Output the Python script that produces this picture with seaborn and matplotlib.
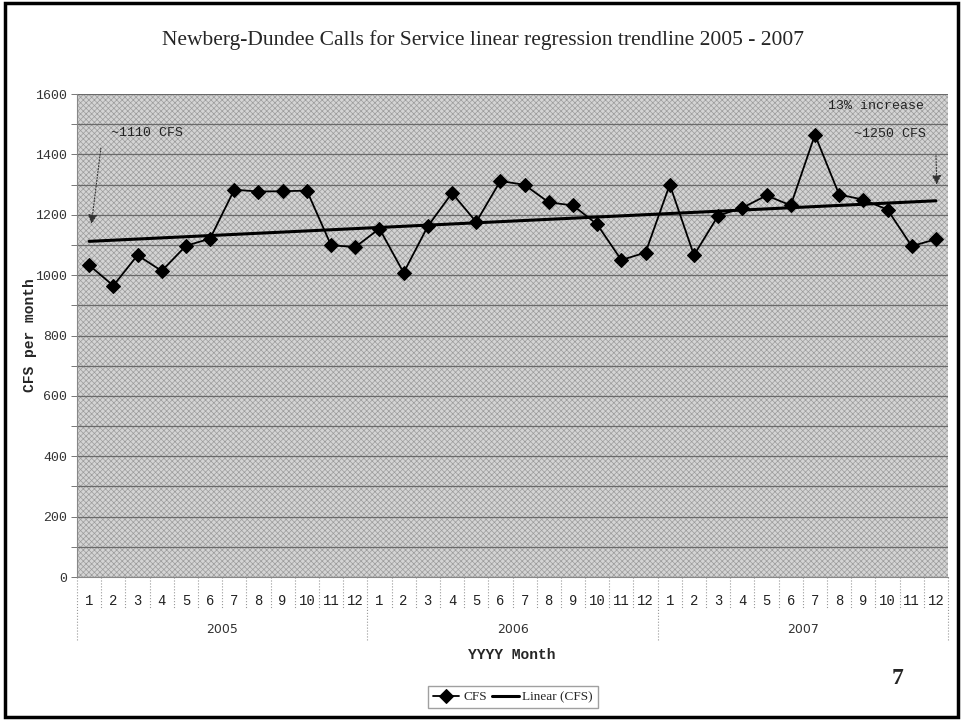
import pandas as pd
import seaborn as sns
import matplotlib.pyplot as plt
from matplotlib.patches import Rectangle
from matplotlib.ticker import MultipleLocator


YEARS = [2005, 2006, 2007]
MONTHS = list(range(1, 13))
CFS_2005 = [1033, 965, 1066, 1014, 1097, 1121, 1283, 1277, 1278, 1280, 1099, 1093]
CFS_2006 = [1154, 1008, 1162, 1272, 1176, 1312, 1299, 1241, 1231, 1168, 1050, 1075]
CFS_2007 = [1300, 1066, 1197, 1223, 1264, 1231, 1465, 1267, 1250, 1217, 1096, 1119]

TITLE = "Newberg-Dundee Calls for Service linear regression trendline 2005 - 2007"
MONO = "Liberation Mono"
SERIF = "Liberation Serif"


def build_frame():
    values = CFS_2005 + CFS_2006 + CFS_2007
    df = pd.DataFrame({
        "year": [y for y in YEARS for _ in MONTHS],
        "month": MONTHS * len(YEARS),
        "CFS": values,
    })
    df["idx"] = range(1, len(df) + 1)
    return df


def draw(df):
    sns.set_theme(style="white")
    plt.rcParams["hatch.linewidth"] = 0.5

    fig = plt.figure(figsize=(9.64, 7.21), dpi=100)
    ax = fig.add_axes([0.0799, 0.1997, 0.9035, 0.6699])

    # patterned plot area like the old excel fill
    ax.set_facecolor("#d4d4d4")
    ax.add_patch(Rectangle((0, 0), 1, 1, transform=ax.transAxes, facecolor="none",
                           edgecolor="#9c9c9c", hatch="xxxxxx", lw=0, zorder=0))

    sns.lineplot(data=df, x="idx", y="CFS", ax=ax, color="black", lw=1.3,
                 marker="D", markersize=7, markeredgecolor="black",
                 label="CFS", zorder=4)
    sns.regplot(data=df, x="idx", y="CFS", ax=ax, scatter=False, ci=None,
                color="black", label="Linear (CFS)", line_kws=dict(lw=2.2, zorder=3))

    ax.set_xlim(0.5, len(df) + 0.5)
    ax.set_ylim(0, 1600)
    ax.yaxis.set_major_locator(MultipleLocator(200))
    ax.yaxis.set_minor_locator(MultipleLocator(100))
    ax.grid(which="both", axis="y", color="#6a6a6a", lw=0.9, zorder=1)
    ax.set_axisbelow(True)
    ax.tick_params(axis="y", which="both", left=True, length=4, width=0.7,
                   color="#777", labelsize=9.5, labelcolor="#333", pad=3)
    for lab in ax.get_yticklabels():
        lab.set_fontfamily(MONO)

    for side in ["top", "right"]:
        ax.spines[side].set_visible(False)
    for side in ["left", "bottom"]:
        ax.spines[side].set_color("#888")
        ax.spines[side].set_linewidth(0.8)

    # month row and year row under the axis
    ax.set_xticks(df["idx"])
    ax.set_xticklabels(df["month"].astype(str), fontfamily=MONO, fontsize=10, color="#222")
    ax.tick_params(axis="x", length=0, pad=12)
    xt = ax.get_xaxis_transform()
    n = len(MONTHS)
    for i in range(len(df) + 1):
        edge = i % n == 0
        ax.plot([i + 0.5, i + 0.5], [0, -0.13 if edge else -0.064], transform=xt,
                clip_on=False, ls=":", color="#999", lw=0.8)
    for k, year in enumerate(YEARS):
        ax.text(k * n + (n + 1) / 2, -0.108, str(year), transform=xt, ha="center",
                va="center", fontsize=9, color="#333", family="DejaVu Sans")

    ax.set_xlabel("")
    ax.set_ylabel("")

    # annotations
    ax.annotate("", xy=(1.08, 1160), xytext=(1.5, 1430),
                arrowprops=dict(arrowstyle="-|>", ls=":", color="#333", lw=0.8, mutation_scale=14))
    ax.text(1.9, 1472, "~1110 CFS", ha="left", va="center", family=MONO, fontsize=9.5, color="#222")
    ax.text(35.5, 1561, "13% increase", ha="right", va="center", family=MONO, fontsize=9.5, color="#222")
    ax.text(35.6, 1469, "~1250 CFS", ha="right", va="center", family=MONO, fontsize=9.5, color="#222")
    ax.annotate("", xy=(36.04, 1290), xytext=(36.0, 1405),
                arrowprops=dict(arrowstyle="-|>", ls=":", color="#333", lw=0.8, mutation_scale=14))

    handles, labels = ax.get_legend_handles_labels()
    if ax.get_legend() is not None:
        ax.get_legend().remove()
    fig.legend(handles, labels, loc="center", bbox_to_anchor=(513 / 964, 1 - 697 / 721),
               ncol=2, frameon=True, fancybox=False, edgecolor="#888",
               prop=dict(family=SERIF, size=9.5), handlelength=2, handletextpad=0.3,
               columnspacing=0.4, borderpad=0.35)

    fig.text(483 / 964, 1 - 40 / 721, TITLE, ha="center", va="center", family=SERIF, fontsize=15.5)
    fig.text(30 / 964, 1 - 335 / 721, "CFS per month", rotation=90, ha="center", va="center",
             family=MONO, weight="bold", fontsize=10.5)
    fig.text(512 / 964, 1 - 655 / 721, "YYYY Month", ha="center", va="center",
             family=MONO, weight="bold", fontsize=10.5)
    fig.text(898 / 964, 1 - 678 / 721, "7", ha="center", va="center",
             family=SERIF, weight="bold", fontsize=17)

    fig.patches.append(Rectangle((0.005, 0.0055), 0.989, 0.99, transform=fig.transFigure,
                                 fill=False, lw=2.5, ec="black"))

    fig.savefig("out.png", dpi=100)
    plt.close(fig)


def main():
    df = build_frame()
    draw(df)


if __name__ == "__main__":
    main()
